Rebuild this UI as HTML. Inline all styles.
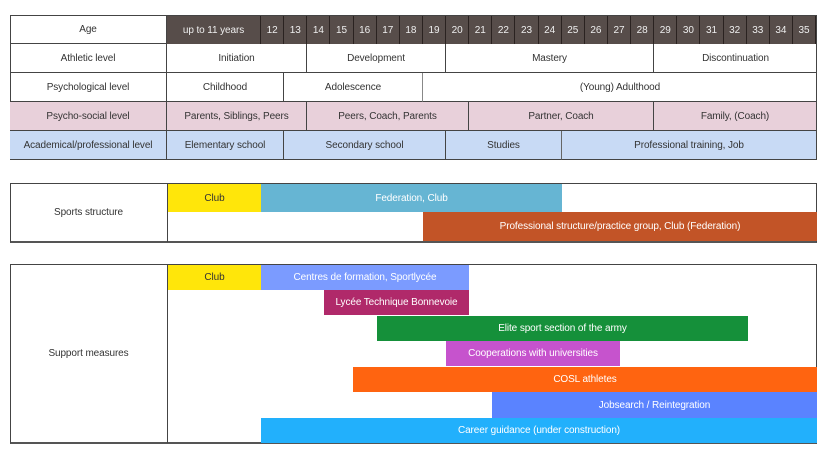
<!DOCTYPE html>
<html><head><meta charset="utf-8"><style>
body{margin:0;width:822px;height:465px;background:#fff;position:relative;overflow:hidden;font-family:"Liberation Sans",sans-serif;font-size:10px;color:#333}
.c{position:absolute;box-sizing:border-box;display:flex;align-items:center;justify-content:center;white-space:nowrap;letter-spacing:-0.1px}
.w{color:#fff}
.hd{background:#574d4a;color:#eee;border-right:1px solid #2a2220}
.box{position:absolute;box-sizing:border-box;border:1px solid #444;border-bottom:2px solid #555}
</style></head><body>
<!-- top table -->
<div class="box" style="left:10px;top:15px;width:807px;height:145px;border:1px solid #444;border-bottom:1px solid #444"></div>
<div class="c" style="left:10px;top:15px;width:157px;height:29px;border-bottom:1px solid #444;border-right:1px solid #444">Age</div>
<div class="c hd" style="left:167px;top:16px;width:94px;height:28px">up to 11 years</div>
<div id="ages"></div>
<div class="c" style="left:10px;top:44px;width:157px;height:29px;border-bottom:1px solid #444;border-right:1px solid #444">Athletic level</div>
<div class="c" style="left:167px;top:44px;width:140px;height:29px;border-bottom:1px solid #444;border-right:1px solid #444">Initiation</div>
<div class="c" style="left:307px;top:44px;width:139px;height:29px;border-bottom:1px solid #444;border-right:1px solid #444">Development</div>
<div class="c" style="left:446px;top:44px;width:208px;height:29px;border-bottom:1px solid #444;border-right:1px solid #444">Mastery</div>
<div class="c" style="left:654px;top:44px;width:163px;height:29px;border-bottom:1px solid #444">Discontinuation</div>
<div class="c" style="left:10px;top:73px;width:157px;height:29px;border-bottom:1px solid #444;border-right:1px solid #444">Psychological level</div>
<div class="c" style="left:167px;top:73px;width:117px;height:29px;border-bottom:1px solid #444;border-right:1px solid #444">Childhood</div>
<div class="c" style="left:284px;top:73px;width:139px;height:29px;border-bottom:1px solid #444;border-right:1px solid #888">Adolescence</div>
<div class="c" style="left:423px;top:73px;width:394px;height:29px;border-bottom:1px solid #444">(Young) Adulthood</div>
<div class="c" style="left:10px;top:102px;width:157px;height:29px;background:#e8d0da;border-bottom:1px solid #444;border-right:1px solid #444">Psycho-social level</div>
<div class="c" style="left:167px;top:102px;width:140px;height:29px;background:#e8d0da;border-bottom:1px solid #444;border-right:1px solid #444">Parents, Siblings, Peers</div>
<div class="c" style="left:307px;top:102px;width:162px;height:29px;background:#e8d0da;border-bottom:1px solid #444;border-right:1px solid #444">Peers, Coach, Parents</div>
<div class="c" style="left:469px;top:102px;width:185px;height:29px;background:#e8d0da;border-bottom:1px solid #444;border-right:1px solid #444">Partner, Coach</div>
<div class="c" style="left:654px;top:102px;width:162px;height:29px;background:#e8d0da;border-bottom:1px solid #444">Family, (Coach)</div>
<div class="c" style="left:10px;top:131px;width:157px;height:29px;background:#c8daf5;border-bottom:1px solid #444;border-right:1px solid #444">Academical/professional level</div>
<div class="c" style="left:167px;top:131px;width:117px;height:29px;background:#c8daf5;border-bottom:1px solid #444;border-right:1px solid #444">Elementary school</div>
<div class="c" style="left:284px;top:131px;width:162px;height:29px;background:#c8daf5;border-bottom:1px solid #444;border-right:1px solid #444">Secondary school</div>
<div class="c" style="left:446px;top:131px;width:116px;height:29px;background:#c8daf5;border-bottom:1px solid #444;border-right:1px solid #666">Studies</div>
<div class="c" style="left:562px;top:131px;width:254px;height:29px;background:#c8daf5;border-bottom:1px solid #444">Professional training, Job</div>

<!-- sports structure -->
<div class="box" style="left:10px;top:183px;width:807px;height:60px"></div>
<div class="c" style="left:10px;top:183px;width:158px;height:59px;border-right:1px solid #444">Sports structure</div>
<div class="c" style="left:168px;top:184px;width:93px;height:28px;background:#ffe60a">Club</div>
<div class="c w" style="left:261px;top:184px;width:301px;height:28px;background:#66b5d3">Federation, Club</div>
<div class="c w" style="left:423px;top:212px;width:394px;height:29px;background:#c25427">Professional structure/practice group, Club (Federation)</div>

<!-- support -->
<div class="box" style="left:10px;top:264px;width:807px;height:180px"></div>
<div class="c" style="left:10px;top:264px;width:158px;height:179px;border-right:1px solid #444">Support measures</div>
<div class="c" style="left:168px;top:265px;width:93px;height:25px;background:#ffe60a">Club</div>
<div class="c w" style="left:261px;top:265px;width:208px;height:25px;background:#7b9bff">Centres de formation, Sportlycée</div>
<div class="c w" style="left:324px;top:290px;width:145px;height:25px;background:#b0296a">Lycée Technique Bonnevoie</div>
<div class="c w" style="left:377px;top:316px;width:371px;height:25px;background:#15903a">Elite sport section of the army</div>
<div class="c w" style="left:446px;top:341px;width:174px;height:25px;background:#c653cd">Cooperations with universities</div>
<div class="c w" style="left:353px;top:367px;width:464px;height:25px;background:#ff6410">COSL athletes</div>
<div class="c w" style="left:492px;top:392px;width:325px;height:26px;background:#5a83ff">Jobsearch / Reintegration</div>
<div class="c w" style="left:261px;top:418px;width:556px;height:25px;background:#22b0fc">Career guidance (under construction)</div>

<script>
var h='';for(var i=0;i<24;i++){var x=261+i*23.125;h+='<div class="c hd" style="left:'+x+'px;top:16px;width:23.2px;height:28px">'+(12+i)+'</div>';}
document.getElementById('ages').outerHTML=h;
</script>
</body></html>
